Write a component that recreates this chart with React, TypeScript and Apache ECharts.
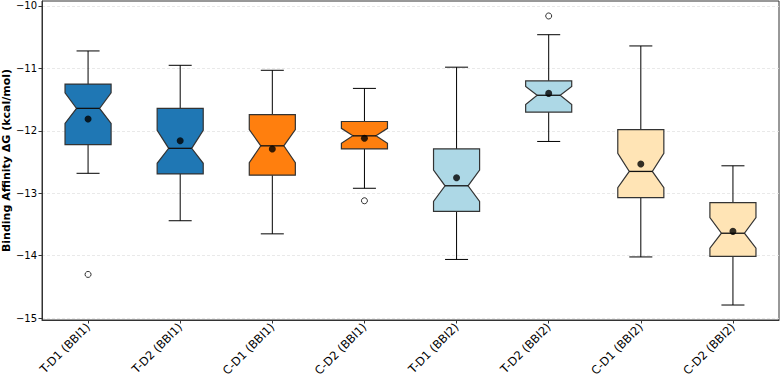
import React, { useEffect, useRef } from "react";
import * as echarts from "echarts";

const categories = [
  "T-D1 (BBI1)",
  "T-D2 (BBI1)",
  "C-D1 (BBI1)",
  "C-D2 (BBI1)",
  "T-D1 (BBI2)",
  "T-D2 (BBI2)",
  "C-D1 (BBI2)",
  "C-D2 (BBI2)",
];
const whiskerLow = [-12.68, -13.44, -13.65, -12.92, -14.06, -12.17, -14.02, -14.79];
const q1 = [-12.22, -12.69, -12.71, -12.29, -13.29, -11.7, -13.07, -14.01];
const median = [-11.64, -12.28, -12.24, -12.08, -12.88, -11.43, -12.65, -13.64];
const q3 = [-11.25, -11.64, -11.74, -11.85, -12.29, -11.2, -11.98, -13.15];
const whiskerHigh = [-10.72, -10.95, -11.03, -11.32, -10.98, -10.46, -10.64, -12.56];
const notchLow = [-11.88, -12.52, -12.51, -12.2, -13.13, -11.58, -12.91, -13.88];
const notchHigh = [-11.39, -11.99, -11.98, -11.96, -12.63, -11.29, -12.36, -13.39];
const means = [-11.81, -12.16, -12.29, -12.12, -12.75, -11.4, -12.53, -13.61];
const outlierCategory = [0, 3, 5];
const outlierValue = [-14.3, -13.12, -10.16];
const yTicks = [-15, -14, -13, -12, -11, -10];

const boxColors = [
  "#1f77b4",
  "#1f77b4",
  "#ff7f0e",
  "#ff7f0e",
  "#add8e6",
  "#add8e6",
  "#ffe4b5",
  "#ffe4b5",
];

const FONT = "DejaVu Sans";

export default function App() {
  const ref = useRef<HTMLDivElement>(null);
  useEffect(() => {
    if (!ref.current) return;
    const chart = echarts.init(ref.current, undefined, { renderer: "svg" });
    const boxData = categories.map((_, i) => [
      i,
      whiskerLow[i],
      q1[i],
      median[i],
      q3[i],
      whiskerHigh[i],
      notchLow[i],
      notchHigh[i],
    ]);
    const renderItem = (params: any, api: any) => {
      const i = api.value(0);
      const band = api.size([1, 0])[0];
      const half = band * 0.25;
      const cx = api.coord([i, api.value(3)])[0];
      const y = (k: number) => api.coord([i, api.value(k)])[1];
      const yWl = y(1), yQ1 = y(2), yMed = y(3), yQ3 = y(4), yWh = y(5), yNl = y(6), yNh = y(7);
      const L = cx - half, R = cx + half, nL = cx - half / 2, nR = cx + half / 2;
      const capHalf = half / 2;
      const black = "#000";
      return {
        type: "group",
        children: [
          { type: "line", shape: { x1: cx, y1: yQ1, x2: cx, y2: yWl }, style: { stroke: black, lineWidth: 1 } },
          { type: "line", shape: { x1: cx, y1: yQ3, x2: cx, y2: yWh }, style: { stroke: black, lineWidth: 1 } },
          { type: "line", shape: { x1: cx - capHalf, y1: yWl, x2: cx + capHalf, y2: yWl }, style: { stroke: black, lineWidth: 1 } },
          { type: "line", shape: { x1: cx - capHalf, y1: yWh, x2: cx + capHalf, y2: yWh }, style: { stroke: black, lineWidth: 1 } },
          {
            type: "polygon",
            shape: {
              points: [
                [L, yQ1], [L, yNl], [nL, yMed], [L, yNh], [L, yQ3],
                [R, yQ3], [R, yNh], [nR, yMed], [R, yNl], [R, yQ1],
              ],
            },
            style: { fill: boxColors[i], stroke: "#333", lineWidth: 1.2 },
          },
          { type: "line", shape: { x1: nL, y1: yMed, x2: nR, y2: yMed }, style: { stroke: "#111", lineWidth: 1.3 } },
        ],
      };
    };
    chart.setOption({
      animation: false,
      backgroundColor: "#fff",
      grid: {
        left: 42, right: 1, top: 1, bottom: 58,
        containLabel: false,
        outerBoundsMode: "none",
        show: true, borderColor: "#333", borderWidth: 1,
      },
      xAxis: {
        type: "category",
        data: categories,
        axisLine: { show: true, lineStyle: { color: "#333", width: 1 } },
        axisTick: { show: true, alignWithLabel: true, length: 3.5, lineStyle: { color: "#333" } },
        axisLabel: { interval: 0, rotate: 45, fontSize: 11.5, fontFamily: FONT, color: "#000", margin: 5 },
        splitLine: { show: false },
      },
      yAxis: {
        type: "value",
        min: -15.03,
        max: -9.92,
        splitNumber: 5,
        name: "Binding Affinity ΔG (kcal/mol)",
        nameLocation: "middle",
        nameGap: 30,
        nameMoveOverlap: false,
        nameTextStyle: { fontWeight: "bold", fontSize: 11, fontFamily: FONT, color: "#000" },
        axisLine: { show: true, lineStyle: { color: "#333", width: 1 } },
        axisTick: { show: true, length: 3.5, lineStyle: { color: "#333" }, customValues: yTicks },
        axisLabel: {
          fontSize: 10,
          fontFamily: FONT,
          color: "#000",
          margin: 5,
          customValues: yTicks,
          formatter: (v: number) =>
            Math.abs(v - Math.round(v)) < 1e-6 ? String(Math.round(v)).replace("-", "\u2212") : "",
        },
        splitLine: { show: true, lineStyle: { color: "#e3e3e3", type: [3, 2], width: 0.8 } },
      },
      series: [
        {
          type: "custom",
          renderItem,
          data: boxData,
          encode: { x: 0, y: [1, 2, 3, 4, 5, 6, 7] },
          z: 2,
        },
        {
          type: "scatter",
          data: means.map((m, i) => [i, m]),
          symbol: "circle",
          symbolSize: 7,
          itemStyle: { color: "#000" },
          z: 5,
        },
        {
          type: "scatter",
          data: outlierCategory.map((c, k) => [c, outlierValue[k]]),
          symbol: "circle",
          symbolSize: 6,
          itemStyle: { color: "#fff", borderColor: "#000", borderWidth: 1 },
          z: 5,
        },
      ],
    });
    return () => chart.dispose();
  }, []);
  return (
    <div
      ref={ref}
      style={{ position: "fixed", left: 0, top: 0, width: 780, height: 378 }}
    />
  );
}
